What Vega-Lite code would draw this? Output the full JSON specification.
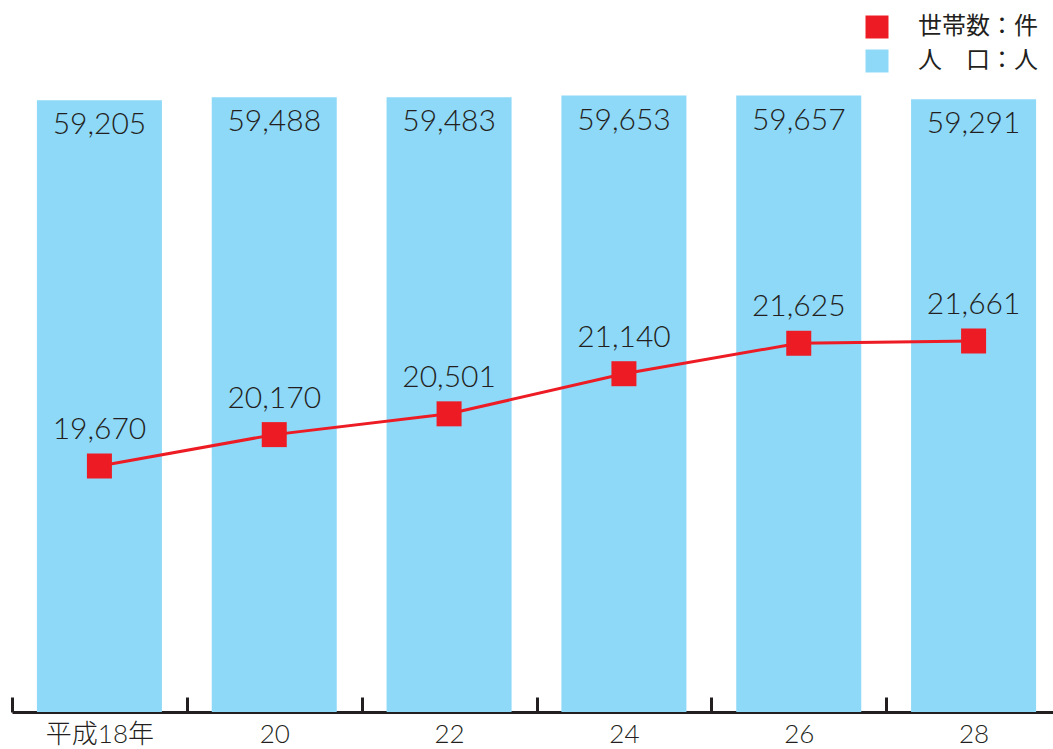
{
  "$schema": "https://vega.github.io/schema/vega-lite/v6.json",
  "width": 1041,
  "height": 620,
  "autosize": {"type": "none"},
  "padding": {"left": 12, "top": 92, "right": 0, "bottom": 37},
  "background": "white",
  "config": {"view": {"stroke": null}},
  "data": {
    "values": [
      {"year": "平成18年", "pop": 59205, "hh": 19670},
      {"year": "20", "pop": 59488, "hh": 20170},
      {"year": "22", "pop": 59483, "hh": 20501},
      {"year": "24", "pop": 59653, "hh": 21140},
      {"year": "26", "pop": 59657, "hh": 21625},
      {"year": "28", "pop": 59291, "hh": 21661}
    ]
  },
  "encoding": {
    "x": {
      "field": "year",
      "type": "ordinal",
      "sort": null,
      "scale": {"range": [0, 1049], "paddingInner": 0, "paddingOuter": 0},
      "axis": {
        "title": null,
        "labelAngle": 0,
        "domainColor": "#231f20",
        "domainWidth": 3,
        "tickColor": "#231f20",
        "tickWidth": 3,
        "tickSize": -15,
        "tickBand": "extent",
        "labelFontSize": 26,
        "labelFontWeight": 300,
        "labelColor": "#231f20",
        "labelFont": "Lato, Noto Sans CJK JP",
        "labelPadding": 24,
        "grid": false
      }
    }
  },
  "layer": [
    {
      "mark": {"type": "bar", "opacity": 1, "width": {"band": 0.715}},
      "encoding": {
        "y": {"field": "pop", "type": "quantitative", "scale": {"domain": [0, 60000], "nice": false}, "axis": null},
        "color": {
          "datum": "人　口：人",
          "type": "nominal",
          "scale": {"domain": ["世帯数：件", "人　口：人"], "range": ["#ed1c24", "#8ed8f8"]},
          "legend": {
            "title": null,
            "orient": "none",
            "legendX": 853,
            "legendY": -77,
            "padding": 0,
            "symbolType": "square",
            "symbolSize": 529,
            "symbolStrokeWidth": 0,
            "symbolOpacity": 1,
            "labelFontSize": 24,
            "labelFont": "Noto Sans CJK JP",
            "labelColor": "#231f20",
            "labelOffset": 29,
            "rowPadding": 10
          }
        }
      }
    },
    {
      "mark": {"type": "text", "fontSize": 30, "font": "Lato", "fontWeight": 300, "color": "#231f20", "baseline": "alphabetic", "dy": 34},
      "encoding": {
        "y": {"field": "pop", "type": "quantitative", "scale": {"domain": [0, 60000], "nice": false}, "axis": null},
        "text": {"field": "pop", "type": "quantitative", "format": ","}
      }
    },
    {
      "mark": {"type": "line", "color": "#ed1c24", "strokeWidth": 3},
      "encoding": {
        "y": {"field": "hh", "type": "quantitative", "scale": {"domain": [15752, 25627], "nice": false, "zero": false}, "axis": null}
      }
    },
    {
      "mark": {"type": "point", "shape": "square", "filled": true, "size": 625, "opacity": 1},
      "encoding": {
        "y": {"field": "hh", "type": "quantitative", "scale": {"domain": [15752, 25627], "nice": false, "zero": false}, "axis": null},
        "color": {"datum": "世帯数：件", "type": "nominal"}
      }
    },
    {
      "mark": {"type": "text", "fontSize": 30, "font": "Lato", "fontWeight": 300, "color": "#231f20", "baseline": "alphabetic", "dy": -27},
      "encoding": {
        "y": {"field": "hh", "type": "quantitative", "scale": {"domain": [15752, 25627], "nice": false, "zero": false}, "axis": null},
        "text": {"field": "hh", "type": "quantitative", "format": ","}
      }
    }
  ],
  "resolve": {"scale": {"y": "independent"}}
}
